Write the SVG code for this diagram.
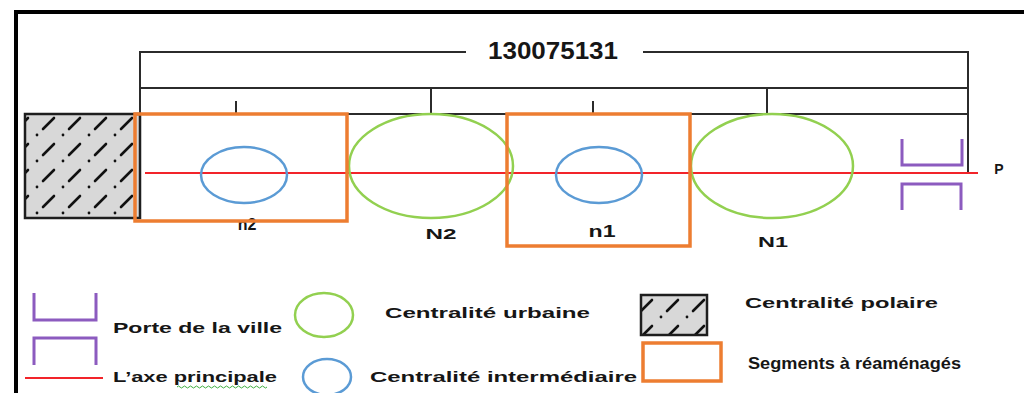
<svg xmlns="http://www.w3.org/2000/svg" width="1024" height="393" viewBox="0 0 1024 393">
  <style>
    .frame { fill: none; stroke: #000; stroke-width: 4; }
    .bracket { fill: none; stroke: #2b2b2b; stroke-width: 2; }
    .axis { stroke: #f2242a; stroke-width: 2; }
    .urban { fill: none; stroke: #92d050; stroke-width: 2.5; }
    .inter { fill: none; stroke: #5b9bd5; stroke-width: 2.5; }
    .segment { fill: none; stroke: #ed7d31; stroke-width: 3.5; }
    .gate { fill: none; stroke: #8c5bbf; stroke-width: 3; }
    .pole { fill: url(#hatch); stroke: #1e1e1e; stroke-width: 2.5; }
    .lbl { font-family: "Liberation Sans", Arial, sans-serif; font-weight: bold; fill: #161616; }
    .leg { font-family: "Liberation Sans", Arial, sans-serif; font-weight: bold; font-size: 15px; fill: #161616; }
  </style>
  <defs>
    <pattern id="hatch" patternUnits="userSpaceOnUse" x="35" y="114" width="26" height="26">
      <rect width="26" height="26" fill="#d8d8d8"/>
      <line x1="8" y1="15" x2="19" y2="4" stroke="#111" stroke-width="2.6" stroke-linecap="round"/>
      <circle cx="2" cy="21" r="1.4" fill="#111"/>
    </pattern>
  </defs>

  <!-- outer frame (top and left edges) -->
  <path class="frame" d="M16 393 V12 H1024"/>

  <!-- dimension brackets and the main axis -->
  <g id="connectors">
    <path class="bracket" d="M140 114 V52 H466"/>
    <path class="bracket" d="M643 52 H968 V174"/>
    <line class="bracket" x1="140" y1="88" x2="968" y2="88"/>
    <line class="bracket" x1="140" y1="114" x2="968" y2="114"/>
    <line class="bracket" x1="431" y1="88" x2="431" y2="114"/>
    <line class="bracket" x1="767" y1="88" x2="767" y2="114"/>
    <line class="bracket" x1="236" y1="101" x2="236" y2="114"/>
    <line class="bracket" x1="593" y1="101" x2="593" y2="114"/>
    <line class="axis" x1="145" y1="173" x2="978" y2="173"/>
  </g>

  <text id="total-length" class="lbl" x="553" y="59" font-size="24" text-anchor="middle" textLength="130" lengthAdjust="spacingAndGlyphs">130075131</text>

  <!-- polar centrality block -->
  <g id="pole">
    <rect class="pole" x="25" y="114" width="115" height="104"/>
  </g>

  <!-- intermediate centrality n2 -->
  <g id="n2">
    <ellipse class="inter" cx="244" cy="175" rx="43" ry="28"/>
    <text class="lbl" x="247" y="230" font-size="16" text-anchor="middle">n2</text>
  </g>

  <!-- urban centrality N2 -->
  <g id="N2">
    <ellipse class="urban" cx="431" cy="166" rx="82" ry="52"/>
    <text class="lbl" x="441" y="239" font-size="15" text-anchor="middle" textLength="31" lengthAdjust="spacingAndGlyphs">N2</text>
  </g>

  <!-- intermediate centrality n1 -->
  <g id="n1">
    <ellipse class="inter" cx="599" cy="175" rx="43" ry="28"/>
    <text class="lbl" x="602" y="237" font-size="16" text-anchor="middle" textLength="27" lengthAdjust="spacingAndGlyphs">n1</text>
  </g>

  <!-- urban centrality N1 -->
  <g id="N1">
    <ellipse class="urban" cx="772" cy="166" rx="81" ry="52"/>
    <text class="lbl" x="773" y="247" font-size="15" text-anchor="middle" textLength="30" lengthAdjust="spacingAndGlyphs">N1</text>
  </g>

  <!-- segments to be redeveloped -->
  <g id="segment-a">
    <rect class="segment" x="135" y="114" width="212" height="107"/>
  </g>
  <g id="segment-b">
    <rect class="segment" x="507" y="114" width="183" height="132"/>
  </g>

  <!-- city gate at the axis end -->
  <g id="gate">
    <path class="gate" d="M902 139 V165 H962 V139"/>
    <path class="gate" d="M902 210 V184 H961 V210"/>
    <text class="lbl" x="999" y="174" font-size="14" text-anchor="middle">P</text>
  </g>

  <!-- legend -->
  <g id="legend">
    <path class="gate" d="M34 293 V320 H96 V293"/>
    <path class="gate" d="M34 365 V338 H96 V365"/>
    <text class="leg" x="113" y="333" textLength="169" lengthAdjust="spacingAndGlyphs">Porte de la ville</text>

    <line class="axis" x1="25" y1="378" x2="103" y2="378"/>
    <text class="leg" x="113" y="382" textLength="164" lengthAdjust="spacingAndGlyphs">L’axe principale</text>
    <path d="M177 387 q1.5 -2 3 0 t3 0 t3 0 t3 0 t3 0 t3 0 t3 0 t3 0 t3 0 t3 0 t3 0 t3 0 t3 0 t3 0 t3 0 t3 0 t3 0 t3 0 t3 0 t3 0 t3 0 t3 0 t3 0 t3 0 t3 0 t3 0 t3 0 t3 0 t3 0 t3 0" fill="none" stroke="#3fae3f" stroke-width="1"/>

    <ellipse class="urban" cx="324" cy="315" rx="29" ry="22"/>
    <text class="leg" x="385" y="318" textLength="205" lengthAdjust="spacingAndGlyphs">Centralité urbaine</text>

    <ellipse class="inter" cx="327" cy="377" rx="24" ry="18"/>
    <text class="leg" x="370" y="382" textLength="267" lengthAdjust="spacingAndGlyphs">Centralité intermédiaire</text>

    <rect class="pole" x="641" y="295" width="66" height="40"/>
    <text class="leg" x="745" y="308" textLength="193" lengthAdjust="spacingAndGlyphs">Centralité polaire</text>

    <rect class="segment" x="643" y="343" width="78" height="38" stroke-width="3"/>
    <text class="lbl" x="748" y="369" font-size="17" textLength="213" lengthAdjust="spacingAndGlyphs">Segments à réaménagés</text>
  </g>
</svg>
